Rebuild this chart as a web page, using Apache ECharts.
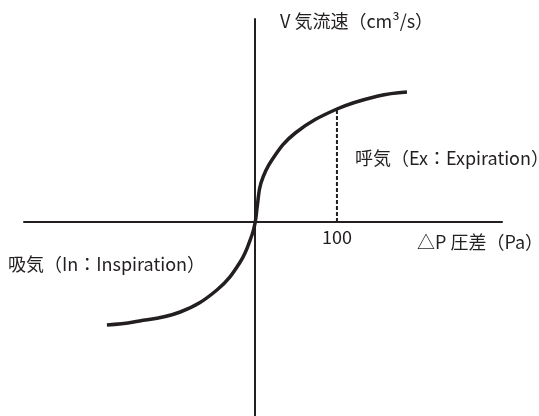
<!DOCTYPE html>
<html>
<head>
<meta charset="utf-8">
<script src="https://cdn.jsdelivr.net/npm/echarts@6/dist/echarts.min.js"></script>
<style>
html, body { margin: 0; padding: 0; background: #fff; }
#main { width: 539px; height: 416px; }
</style>
</head>
<body>
<div id="main"></div>
<script>
// 圧差 ΔP (Pa) と 気流速 V の関係
var curveP = [-181.5, -149, -91.8, -46.9, -18.4, -4, 0, 2.5, 7, 20.4, 49, 100, 150.5, 185.7];
var curveV = [-103, -100, -90, -68, -40, -13, 0, 16, 39, 62, 89, 113, 126, 130];
var guideP = [100, 100];
var guideV = [0, 113];
var tickLabel = '100';

var ink = '#231f20';
var font = '"Noto Sans CJK JP", "Noto Sans", sans-serif';

var dom = document.getElementById('main');
var myChart = echarts.init(dom);

var curve = [];
for (var i = 0; i < curveP.length; i++) {
    curve.push([curveP[i], curveV[i]]);
}
// 破線の下端に目盛りラベル「100」
var guide = [
    {
        value: [guideP[0], guideV[0]],
        label: {
            show: true,
            position: 'bottom',
            distance: 6,
            formatter: tickLabel,
            color: ink,
            fontSize: 18,
            fontFamily: font
        }
    },
    [guideP[1], guideV[1]]
];

function txt(x, y, s) {
    return {
        type: 'text',
        style: { x: x, y: y, text: s, fill: ink, fontSize: 18, fontFamily: font, verticalAlign: 'middle' }
    };
}

var option = {
    animation: false,
    grid: { left: 24, right: 37, top: 19, bottom: 0, containLabel: false, outerBoundsMode: 'none' },
    xAxis: {
        type: 'value',
        min: -283,
        max: 302,
        splitLine: { show: false },
        axisTick: { show: false },
        axisLabel: { show: false },
        axisLine: { onZero: true, lineStyle: { color: ink, width: 2 } }
    },
    yAxis: {
        type: 'value',
        min: -194,
        max: 203,
        splitLine: { show: false },
        axisTick: { show: false },
        axisLabel: { show: false },
        axisLine: { onZero: true, lineStyle: { color: ink, width: 2 } }
    },
    series: [
        {
            type: 'line',
            data: curve,
            smooth: 0.4,
            symbol: 'none',
            lineStyle: { color: ink, width: 3.5 }
        },
        {
            type: 'line',
            data: guide,
            symbol: 'circle',
            symbolSize: 0,
            lineStyle: { color: ink, width: 2, type: [4, 2] }
        }
    ],
    graphic: [
        txt(280, 21, 'V 気流速（cm³/s）'),
        txt(417, 242, '△P 圧差（Pa）'),
        txt(355, 158, '呼気（Ex：Expiration）'),
        txt(8, 264, '吸気（In：Inspiration）')
    ]
};

myChart.setOption(option);
</script>
</body>
</html>
